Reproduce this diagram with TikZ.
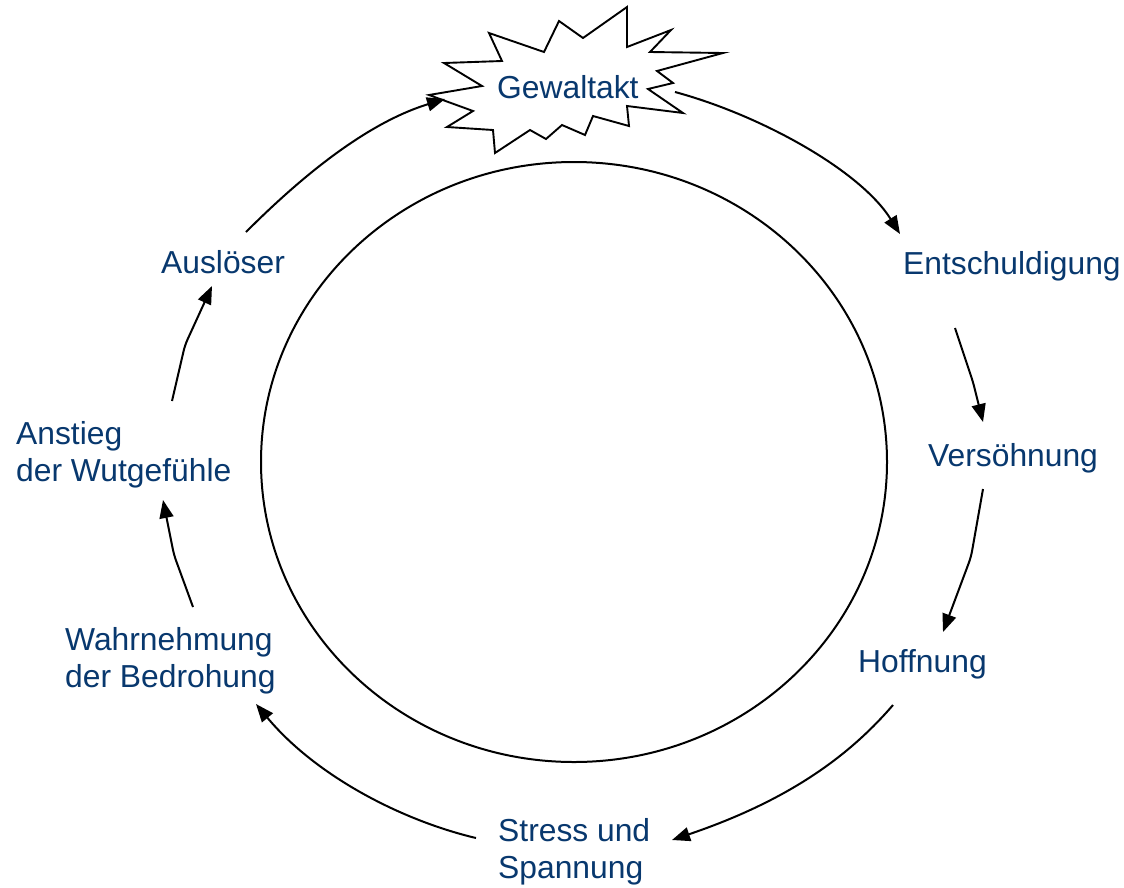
\documentclass[tikz,border=0pt]{standalone}
\usepackage{fontspec}
\setmainfont{Liberation Sans}
\usetikzlibrary{arrows.meta}
\definecolor{lbl}{RGB}{8,56,110}
\begin{document}
\begin{tikzpicture}[x=1pt,y=-1pt,
  lbltext/.style={text=lbl,inner sep=0pt,anchor=base west,align=left,
    font=\fontsize{31.8}{37}\selectfont},
  arr/.style={line width=2pt,-{Triangle[length=18pt,width=14pt]},rounded corners=6pt},
  ring/.style={line width=2pt}]
\useasboundingbox[fill=white] (0,0) rectangle (1124,887);
% central circle
\draw[ring] (574,462) ellipse[x radius=313pt,y radius=300pt];
% starburst
\draw[line width=1.9pt,fill=white] (444,63) -- (502,61) -- (489,33) -- (544,52) -- (559,21) -- (583,38)
  -- (627,7) -- (627,47) -- (671,30) -- (650,52) -- (723,53) -- (657,71) -- (673,83)
  -- (648,89) -- (683,113) -- (627,106) -- (629,126) -- (593,116) -- (585,135)
  -- (562,125) -- (546,139) -- (530,130) -- (495,153) -- (493,130) -- (447,127)
  -- (473,111) -- (429,95) -- (482,86) -- cycle;
% labels
\node[lbltext] (gew) at (497,98) {Gewaltakt};
\node[lbltext] (ent) at (903,274) {Entschuldigung};
\node[lbltext] (ver) at (928,466) {Versöhnung};
\node[lbltext] (hof) at (858,672) {Hoffnung};
\node[lbltext] (str) at (498,878) {Stress und\\Spannung};
\node[lbltext] (wah) at (65,687) {Wahrnehmung\\der Bedrohung};
\node[lbltext] (ans) at (16,481) {Anstieg\\der Wutgefühle};
\node[lbltext] (aus) at (161,273) {Auslöser};
% connector end points
\coordinate (g1) at (675,92);   \coordinate (e0) at (900,234);
\coordinate (e1) at (955,328);  \coordinate (ek) at (973,382); \coordinate (v0) at (983,422);
\coordinate (v1) at (983,489);  \coordinate (vk) at (971,557); \coordinate (h0) at (943,632);
\coordinate (h1) at (893,705);  \coordinate (s0) at (672,840);
\coordinate (s1) at (476,838);  \coordinate (w0) at (256,704);
\coordinate (w1) at (193,607);  \coordinate (wk) at (174,555); \coordinate (a0) at (163,500);
\coordinate (a1) at (172,401);  \coordinate (ak) at (185,345); \coordinate (u0) at (212,286);
\coordinate (u1) at (246,232);  \coordinate (g0) at (445,99);
% connectors
\draw[arr] (g1) .. controls (760,115) and (860,170) .. (e0);
\draw[arr] (e1) -- (ek) -- (v0);
\draw[arr] (v1) -- (vk) -- (h0);
\draw[arr] (h1) .. controls (850,755) and (790,800) .. (s0);
\draw[arr] (s1) .. controls (400,820) and (315,775) .. (w0);
\draw[arr] (w1) -- (wk) -- (a0);
\draw[arr] (a1) -- (ak) -- (u0);
\draw[arr] (u1) .. controls (290,188) and (360,125) .. (g0);
\end{tikzpicture}
\end{document}
